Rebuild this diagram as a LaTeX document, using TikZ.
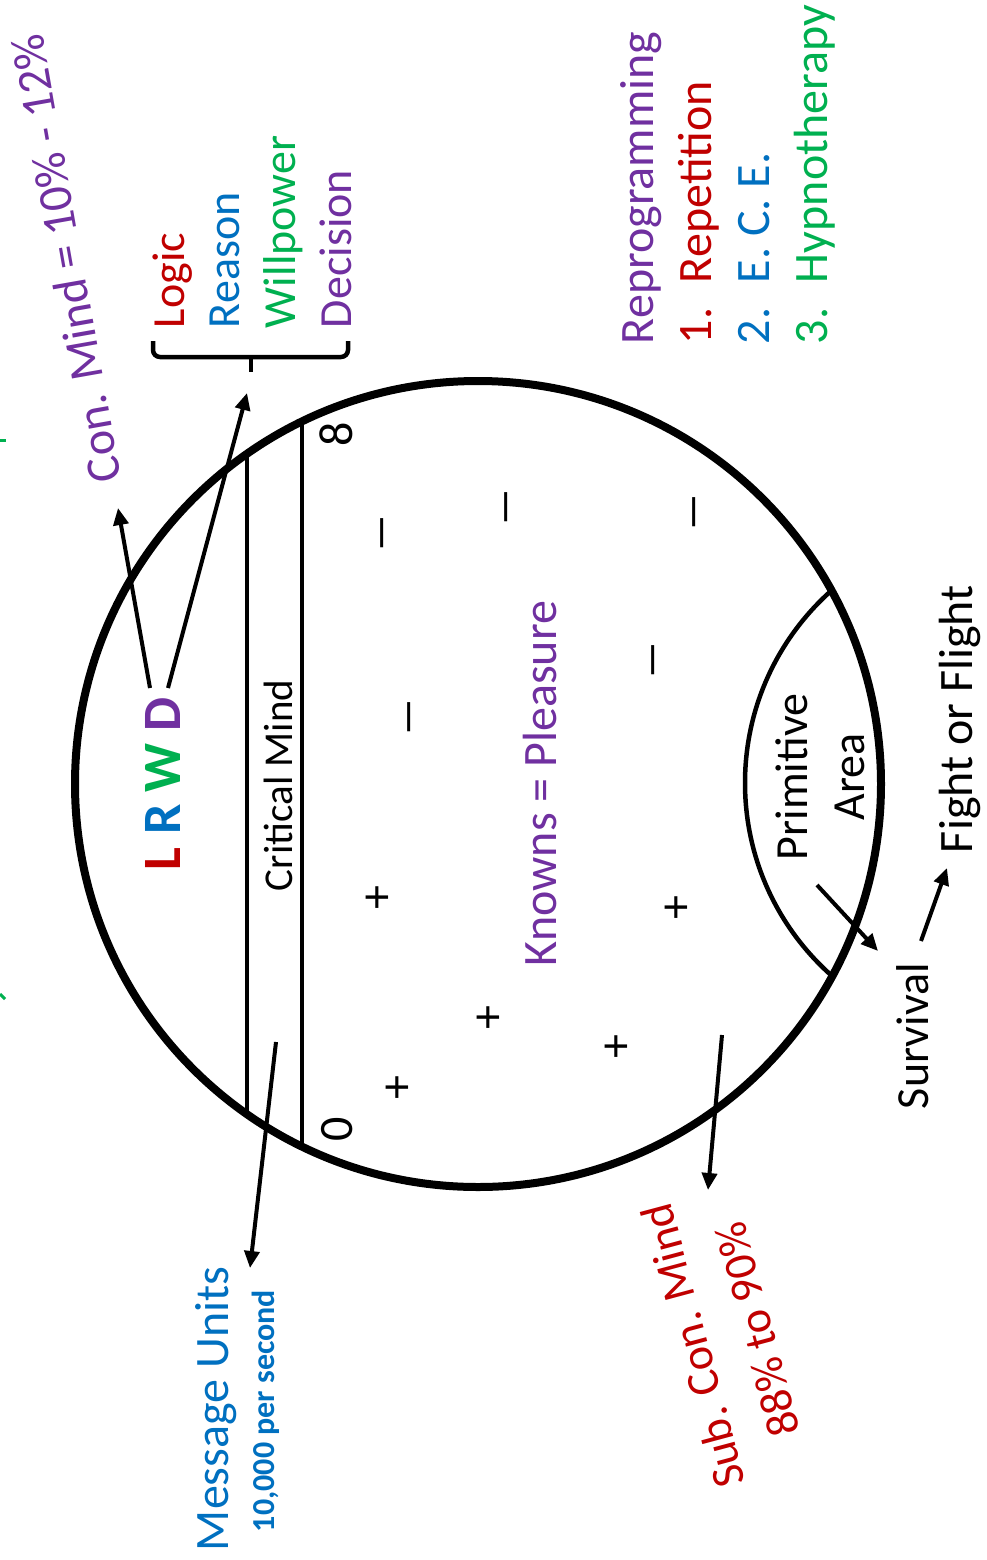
\documentclass[tikz,border=0pt]{standalone}
\usepackage{fontspec}
\setmainfont{Carlito}
\usetikzlibrary{arrows.meta}
\definecolor{cpurple}{HTML}{7030A0}
\definecolor{cred}{HTML}{C00000}
\definecolor{cblue}{HTML}{0070C0}
\definecolor{cgreen}{HTML}{00B050}
\begin{document}
\begin{tikzpicture}[x=1pt,y=-1pt,
  every node/.style={inner sep=0pt, outer sep=0pt},
  fbig/.style={font=\fontsize{48}{57}\selectfont},
  fmid/.style={font=\fontsize{46}{57}\selectfont},
  fsign/.style={font=\fontsize{48}{57}\selectfont, rotate=90},
  vtext/.style={rotate=90, anchor=base west},
  arr/.style={line width=4pt, -{Triangle[length=17pt,width=15pt]}},
  band/.style={line width=4.5pt},
]
\useasboundingbox (0,0) rectangle (987,1560);
\fill[white] (0,0) rectangle (987,1560);

% cut-off green fragments at the left edge
\draw[cgreen, line width=3pt] (0,440) -- (6,440);
\draw[cgreen, line width=3pt] (0,994) -- (5,999);

% primitive area arc
\begin{scope}
  \clip (478,784) circle (403pt);
  \draw[line width=4.5pt] (1002.5,783) circle (257.5pt);
\end{scope}

% critical mind band
\draw[band] (247,453.8) -- (247,1114.2);
\draw[band] (302,421.5) -- (302,1146.5);

% main circle
\draw[line width=8pt] (478,784) circle (403pt);

% bracket
\draw[line width=4.5pt, rounded corners=7pt] (153,341) -- (153,357) -- (348,357) -- (348,341);
\coordinate (brk) at (251,372);
\draw[line width=4.5pt] (251,357) -- (brk);

% labels
\node[fbig, cpurple, rotate=100, anchor=base west] (con) at (121,479) {Con. Mind = 10\% - 12\%};
\node[fmid, cred, vtext] (logic) at (184,328) {Logic};
\node[fmid, cblue, vtext] (reason) at (239,328) {Reason};
\node[fmid, cgreen, vtext] (will) at (295,328) {Willpower};
\node[fmid, cpurple, vtext] (dec) at (351,328) {Decision};

\node[font=\bfseries\fontsize{54}{60}\selectfont, vtext] (lrwd) at (180,870)
  {\textcolor{cred}{L} \textcolor{cblue}{R} \textcolor{cgreen}{W} \textcolor{cpurple}{D}};

\node[font=\fontsize{41}{50}\selectfont, vtext] (crit) at (292,891) {Critical Mind};
\node[fbig, vtext] (eight) at (352,446) {8};
\node[fbig, vtext] (zero) at (352,1141) {0};

\node[fbig, cpurple, vtext] (known) at (556,966) {Knowns = Pleasure};

% plus and minus signs
\node[fsign] (m1) at (388,533) {\scalebox{1.7}[1]{–}};
\node[fsign] (m2) at (512,507) {\scalebox{1.7}[1]{–}};
\node[fsign] (m3) at (700,512) {\scalebox{1.7}[1]{–}};
\node[fsign] (m4) at (415,717) {\scalebox{1.7}[1]{–}};
\node[fsign] (m5) at (659,660) {\scalebox{1.7}[1]{–}};
\node[fsign] (p1) at (379,898) {+};
\node[fsign] (p2) at (678,908) {+};
\node[fsign] (p3) at (490,1018) {+};
\node[fsign] (p4) at (618,1047) {+};
\node[fsign] (p5) at (399,1088) {+};

\node[fmid, rotate=90, align=center] (prim) at (820,777) {Primitive\\Area};
\node[fmid, vtext] (surv) at (928,1109) {Survival};
\node[fbig, vtext] (fight) at (972,853) {Fight or Flight};

\node[fbig, cblue, vtext] (msg) at (228,1551) {Message Units};
\node[font=\bfseries\fontsize{32}{38}\selectfont, cblue, vtext] (rate) at (274,1532) {10,000 per second};

\node[fmid, cred, rotate=105] (sub) at (693,1346) {Sub. Con. Mind};
\node[fmid, cred, rotate=105] (pct) at (757,1330) {88\% to 90\%};

\node[fbig, cpurple, vtext] (repro) at (653,344) {Reprogramming};
\node[fbig, cred, vtext] (n1) at (711,344) {1.};
\node[fbig, cred, vtext] (i1) at (711,283) {Repetition};
\node[fbig, cblue, vtext] (n2) at (769,344) {2.};
\node[fbig, cblue, vtext] (i2) at (769,283) {E. C. E.};
\node[fbig, cgreen, vtext] (n3) at (827,344) {3.};
\node[fbig, cgreen, vtext] (i3) at (827,283) {Hypnotherapy};

% connectors
\coordinate (d1) at (150,688);
\coordinate (d2) at (168,688);
\coordinate (contip) at (118,508);
\coordinate (brktip) at (247,393);
\draw[arr] (d1) -- (contip);
\draw[arr] (d2) -- (brktip);

\coordinate (mstart) at (276,1042);
\coordinate (mtip) at (250,1268);
\draw[arr] (mstart) -- (mtip);

\coordinate (sstart) at (722,1035);
\coordinate (stip) at (708,1190);
\draw[arr] (sstart) -- (stip);

\coordinate (pstart) at (817,885);
\coordinate (ptip) at (878,951);
\draw[arr] (pstart) -- (ptip);

\coordinate (fstart) at (921,941);
\coordinate (ftip) at (947,868);
\draw[arr] (fstart) -- (ftip);
\end{tikzpicture}
\end{document}
